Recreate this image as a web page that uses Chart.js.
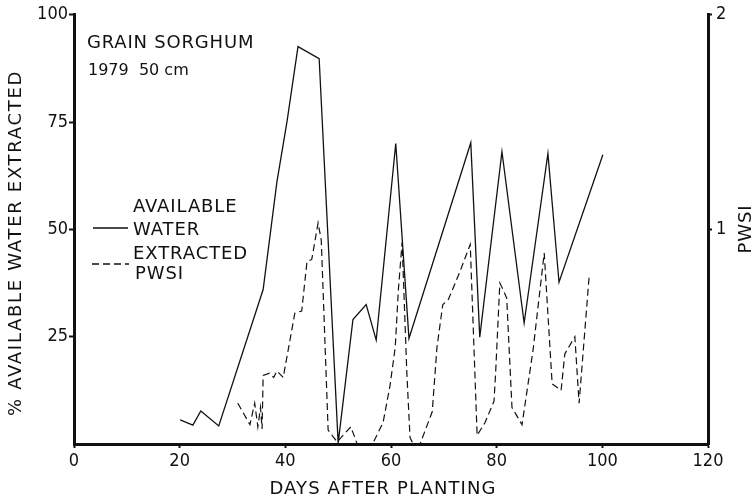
<!DOCTYPE html>
<html>
<head>
<meta charset="utf-8">
<script src="https://cdn.jsdelivr.net/npm/chart.js@4.4.1/dist/chart.umd.min.js"></script>
<style>
  body { margin: 0; background: #fff; }
  #wrap { width: 754px; height: 501px; }
</style>
</head>
<body>
<div id="wrap"><canvas id="chart"></canvas></div>
<script>
// % available water extracted (solid line, left axis)
const waterDays = [20.1, 22.5, 24, 27.4, 35.8, 38.4, 40.3, 42.4, 46.4, 50, 52.8, 55.3, 57.2, 60.9, 63.4, 75.1, 76.8, 81, 85.2, 89.7, 91.8, 100.1];
const waterVals = [5.6, 4.4, 7.7, 4.2, 36, 61, 75, 92.6, 89.8, 0.2, 29, 32.5, 24.2, 70, 24.6, 70.2, 24.9, 68.1, 28.2, 67.7, 37.7, 67.4];

// PWSI (dashed line, right axis)
const pwsiDays = [31, 33.3, 34.2, 34.8, 35.3, 35.6, 35.8, 37.0, 37.8, 38.4,
                  39.6, 41.8, 43.1, 44.1, 45.0, 46.2, 46.8, 48.1, 49.8, 52.4,
                  53.6, 56.5, 57.5, 58.5, 59.8, 60.8, 61.4, 62.1, 63.0, 63.6,
                  64.2, 65.5, 67.8, 68.7, 69.8, 70.8, 73.0, 75.0, 76.3, 77.8,
                  79.5, 79.8, 80.2, 80.6, 81.2, 81.9, 82.9, 84.8, 86.9, 89.0,
                  90.5, 92.2, 92.9, 94.8, 95.6, 97.5];
const pwsiVals = [0.19, 0.09, 0.19, 0.08, 0.17, 0.07, 0.32, 0.33, 0.31, 0.34,
                  0.31, 0.61, 0.62, 0.85, 0.86, 1.03, 0.95, 0.065, 0.01, 0.08,
                  0, 0, 0.05, 0.1, 0.27, 0.45, 0.72, 0.94, 0.33, 0.03,
                  0, 0, 0.15, 0.45, 0.65, 0.67, 0.8, 0.93, 0.04, 0.1,
                  0.2, 0.33, 0.54, 0.75, 0.72, 0.68, 0.17, 0.09, 0.44, 0.89,
                  0.28, 0.25, 0.42, 0.5, 0.19, 0.78];

const xTicks = [0, 20, 40, 60, 80, 100, 120];
const leftTicks = [25, 50, 75, 100];
const rightTicks = [1, 2];

const ink = '#111';
const textFont = '"DejaVu Sans", sans-serif';
const tickFont = '"Liberation Sans Narrow", "DejaVu Sans Condensed", sans-serif';

function spacedText(c, text, x, y, spacing) {
    c.letterSpacing = spacing + 'px';
    c.fillText(text, x, y);
    c.letterSpacing = '0px';
}

// titles, legend and axis titles drawn by hand (letter-spaced like the original)
const annotations = {
    id: 'annotations',
    afterDraw(chart) {
        const c = chart.ctx;
        const area = chart.chartArea;
        c.save();
        c.fillStyle = ink;
        c.strokeStyle = ink;
        c.textBaseline = 'middle';
        c.textAlign = 'left';
        c.font = '18px ' + textFont;
        spacedText(c, 'GRAIN SORGHUM', 87, 43, 0.8);
        c.font = '16px ' + textFont;
        spacedText(c, '1979  50 cm', 88, 71, 0);

        // legend
        c.font = '18px ' + textFont;
        spacedText(c, 'AVAILABLE', 133, 207, 0.9);
        spacedText(c, 'WATER', 133, 230, 0.9);
        spacedText(c, 'EXTRACTED', 133, 254, 0.9);
        spacedText(c, 'PWSI', 135, 274, 0.9);
        c.lineWidth = 1.5;
        c.beginPath();
        c.moveTo(93, 228); c.lineTo(128, 228);
        c.stroke();
        c.setLineDash([7, 4]);
        c.beginPath();
        c.moveTo(92, 264); c.lineTo(129, 264);
        c.stroke();
        c.setLineDash([]);

        // x axis title
        c.textAlign = 'center';
        spacedText(c, 'DAYS AFTER PLANTING', 383, 489, 1.1);

        // left axis title
        c.save();
        c.translate(16, 243);
        c.rotate(-Math.PI / 2);
        spacedText(c, '% AVAILABLE WATER EXTRACTED', 0, 0, 1.7);
        c.restore();

        // right axis title
        c.save();
        c.translate(746, 229);
        c.rotate(-Math.PI / 2);
        spacedText(c, 'PWSI', 0, 0, 0.9);
        c.restore();
        c.restore();
    }
};

const ctx = document.getElementById('chart').getContext('2d');
new Chart(ctx, {
    type: 'line',
    data: {
        datasets: [
            {
                label: 'AVAILABLE WATER EXTRACTED',
                data: waterDays.map((d, i) => ({ x: d, y: waterVals[i] })),
                borderColor: ink,
                borderWidth: 1.3,
                pointRadius: 0,
                tension: 0,
                yAxisID: 'y'
            },
            {
                label: 'PWSI',
                data: pwsiDays.map((d, i) => ({ x: d, y: pwsiVals[i] })),
                borderColor: ink,
                borderWidth: 1.2,
                borderDash: [7, 4],
                pointRadius: 0,
                tension: 0,
                yAxisID: 'y1'
            }
        ]
    },
    options: {
        responsive: true,
        maintainAspectRatio: false,
        animation: false,
        layout: { padding: { top: 14, left: 0, right: 0, bottom: 0 } },
        plugins: { legend: { display: false }, tooltip: { enabled: false } },
        scales: {
            x: {
                type: 'linear',
                min: 0, max: 120,
                afterBuildTicks: s => { s.ticks = xTicks.map(v => ({ value: v })); },
                afterFit: s => { s.height = 57; },
                border: { width: 3, color: ink },
                grid: { drawOnChartArea: false, tickLength: 4, color: ink, tickWidth: 2 },
                ticks: { color: ink, padding: 3, maxRotation: 0, font: { family: tickFont, size: 18 } }
            },
            y: {
                position: 'left',
                min: 0, max: 100,
                afterBuildTicks: s => { s.ticks = leftTicks.map(v => ({ value: v })); },
                afterFit: s => { s.width = 74; },
                border: { width: 3, color: ink },
                grid: { drawOnChartArea: false, tickLength: 5, color: ink, tickWidth: 2 },
                ticks: { color: ink, padding: 1, font: { family: tickFont, size: 18 } }
            },
            y1: {
                position: 'right',
                min: 0, max: 2,
                afterBuildTicks: s => { s.ticks = rightTicks.map(v => ({ value: v })); },
                afterFit: s => { s.width = 46; },
                border: { width: 3, color: ink },
                grid: { drawOnChartArea: false, tickLength: 4, color: ink, tickWidth: 2 },
                ticks: { color: ink, padding: 4, font: { family: tickFont, size: 18 } }
            }
        }
    },
    plugins: [annotations]
});
</script>
</body>
</html>
